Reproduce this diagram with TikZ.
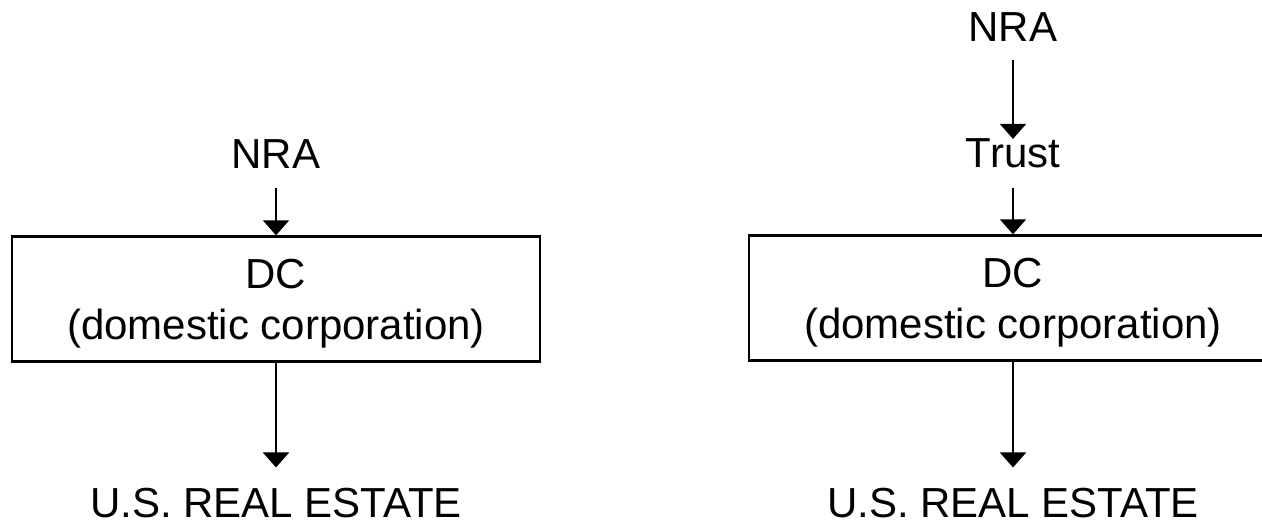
\documentclass[tikz,border=0pt]{standalone}
\usepackage{fontspec}
\setmainfont{Liberation Sans}
\usetikzlibrary{arrows.meta}

\begin{document}
\begin{tikzpicture}[x=1pt,y=-1pt,
  label/.style={inner sep=0pt, anchor=base, font=\fontsize{42}{51}\selectfont},
  corp/.style={draw, line width=2.4pt, minimum width=528pt, minimum height=125pt,
    inner sep=0pt, text depth=0pt, align=center, font=\fontsize{42}{51}\selectfont},
  flow/.style={-{Triangle[width=26pt,length=15pt]}, line width=2pt}]
\useasboundingbox (0,0) rectangle (1262,526);

% Draw the left structure
\node[label] (nraA) at (276,169) {NRA};
\node[corp] (dcA) at (276,299) {DC\\(domestic corporation)};
\node[label] (estA) at (276,518) {U.S. REAL ESTATE};

% Draw the right structure
\node[label] (nraB) at (1013,42) {NRA};
\node[label] (trustB) at (1013,168) {Trust};
\node[corp] (dcB) at (1013,298) {DC\\(domestic corporation)};
\node[label] (estB) at (1013,518) {U.S. REAL ESTATE};

% Draw the connections
\draw[flow, shorten <=19pt] (nraA) -- (dcA);
\draw[flow, shorten >=21pt] (dcA) -- (estA);
\draw[flow, shorten <=18pt] (nraB) -- (trustB.north);
\draw[flow, shorten <=19pt] (trustB) -- (dcB);
\draw[flow, shorten >=21pt] (dcB) -- (estB);

\end{tikzpicture}
\end{document}
